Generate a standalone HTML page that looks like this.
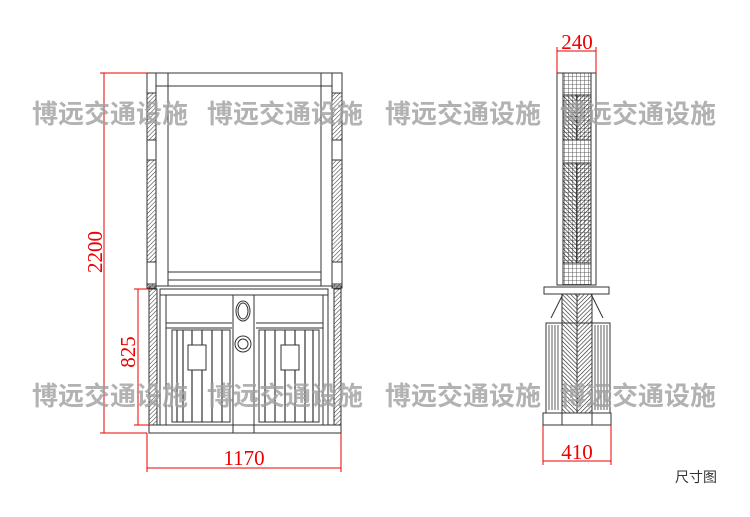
<!DOCTYPE html>
<html><head><meta charset="utf-8"><style>
html,body{margin:0;padding:0;background:#fff;width:750px;height:517px;overflow:hidden}
svg{display:block}
.wm{font-family:"Liberation Sans","Noto Sans CJK SC",sans-serif;font-weight:bold;font-size:26px;fill:#a0a0a0;opacity:.8}
.dim{font-family:"Liberation Serif",serif;font-size:21px;fill:#e00}
</style></head><body>
<svg width="750" height="517" viewBox="0 0 750 517" xmlns="http://www.w3.org/2000/svg">
<defs>
<pattern id="h" width="3" height="3" patternUnits="userSpaceOnUse" patternTransform="rotate(45)"><line x1="0" y1="0" x2="0" y2="3" stroke="#333" stroke-width="1"/></pattern>
<pattern id="hl" width="3" height="3" patternUnits="userSpaceOnUse" patternTransform="rotate(45)"><line x1="0" y1="0" x2="0" y2="3" stroke="#222" stroke-width="1.2"/></pattern>
<pattern id="hr" width="3" height="3" patternUnits="userSpaceOnUse" patternTransform="rotate(-45)"><line x1="0" y1="0" x2="0" y2="3" stroke="#222" stroke-width="1.2"/></pattern>
<pattern id="g" width="4" height="4" patternUnits="userSpaceOnUse"><path d="M0 0H4M0 0V4" stroke="#333" stroke-width="0.8" fill="none"/></pattern>
</defs>
<g fill="none" stroke="#333" stroke-width="1">
<rect x="147" y="73" width="195" height="13"/>
<rect x="147" y="73" width="9" height="215" fill="url(#h)"/>
<rect x="332" y="73" width="10" height="215" fill="url(#h)"/>
<rect x="147" y="73" width="9" height="20" fill="#fff"/>
<rect x="147" y="140" width="9" height="20" fill="#fff"/>
<rect x="147" y="262" width="9" height="22" fill="#fff"/>
<rect x="332" y="73" width="10" height="20" fill="#fff"/>
<rect x="332" y="140" width="10" height="20" fill="#fff"/>
<rect x="332" y="262" width="10" height="22" fill="#fff"/>
<line x1="168" y1="73" x2="168" y2="286"/>
<line x1="321" y1="73" x2="321" y2="286"/>
<line x1="168" y1="272" x2="321" y2="272"/>
<line x1="168" y1="280" x2="321" y2="280"/>
<rect x="149" y="286" width="192" height="147"/>
<rect x="149" y="289" width="8" height="136" fill="url(#h)"/>
<rect x="334" y="289" width="7" height="136" fill="url(#h)"/>
<line x1="149" y1="425" x2="341" y2="425"/>
<rect x="160" y="289" width="168" height="136"/>
<line x1="160" y1="295" x2="328" y2="295"/>
<line x1="166" y1="295" x2="166" y2="425"/>
<line x1="323" y1="295" x2="323" y2="425"/>
<line x1="166" y1="323" x2="232" y2="323"/>
<line x1="256" y1="323" x2="323" y2="323"/>
<line x1="166" y1="328" x2="232" y2="328"/>
<line x1="256" y1="328" x2="323" y2="328"/>
<line x1="233" y1="295" x2="233" y2="433"/>
<line x1="254" y1="295" x2="254" y2="433"/>
<ellipse cx="243" cy="311" rx="7" ry="10"/>
<ellipse cx="243" cy="311" rx="5" ry="8"/>
<circle cx="243" cy="344" r="8"/>
<circle cx="243" cy="344" r="5"/>
<rect x="172" y="330" width="58" height="92"/>
<rect x="259" y="330" width="60" height="92"/>
<g stroke-width="1.2">
<line x1="177" y1="330" x2="177" y2="422"/><line x1="183" y1="330" x2="183" y2="422"/><line x1="192" y1="330" x2="192" y2="422"/><line x1="202" y1="330" x2="202" y2="422"/><line x1="212" y1="330" x2="212" y2="422"/><line x1="222" y1="330" x2="222" y2="422"/>
<line x1="265" y1="330" x2="265" y2="422"/><line x1="275" y1="330" x2="275" y2="422"/><line x1="285" y1="330" x2="285" y2="422"/><line x1="295" y1="330" x2="295" y2="422"/><line x1="305" y1="330" x2="305" y2="422"/><line x1="313" y1="330" x2="313" y2="422"/>
</g>
<rect x="188" y="345" width="18" height="25" fill="#fff"/>
<rect x="281" y="345" width="18" height="25" fill="#fff"/>
<rect x="557" y="73" width="39" height="212"/>
<rect x="563" y="73" width="28" height="212" fill="url(#g)"/>
<rect x="563" y="95" width="14" height="45" fill="url(#hr)"/>
<rect x="577" y="95" width="14" height="45" fill="url(#hl)"/>
<rect x="563" y="163" width="14" height="100" fill="url(#hr)"/>
<rect x="577" y="163" width="14" height="100" fill="url(#hl)"/>
<rect x="544" y="287" width="65" height="7" fill="#fff"/>
<path d="M563 294 L551 318 M591 294 L603 318"/>
<rect x="546" y="323" width="64" height="90"/>
<g stroke-width="0.8">
<line x1="549" y1="325" x2="549" y2="410"/><line x1="552" y1="325" x2="552" y2="410"/><line x1="555" y1="325" x2="555" y2="410"/><line x1="558" y1="325" x2="558" y2="410"/>
<line x1="595" y1="325" x2="595" y2="410"/><line x1="598" y1="325" x2="598" y2="410"/><line x1="601" y1="325" x2="601" y2="410"/><line x1="604" y1="325" x2="604" y2="410"/><line x1="607" y1="325" x2="607" y2="410"/>
</g>
<rect x="562" y="294" width="15" height="119" fill="url(#hr)"/>
<rect x="577" y="294" width="15" height="119" fill="url(#hl)"/>
<rect x="543" y="413" width="68" height="12" fill="#fff"/>
<line x1="562" y1="413" x2="562" y2="425"/><line x1="592" y1="413" x2="592" y2="425"/>
</g>
<g stroke="#e00" stroke-width="1" fill="none">
<line x1="104" y1="73" x2="104" y2="433"/><line x1="100" y1="73" x2="147" y2="73"/><line x1="100" y1="433" x2="147" y2="433"/>
<line x1="138" y1="289" x2="138" y2="425"/><line x1="134" y1="289" x2="149" y2="289"/><line x1="134" y1="425" x2="149" y2="425"/>
<line x1="147" y1="468" x2="341" y2="468"/><line x1="147" y1="433" x2="147" y2="472"/><line x1="341" y1="433" x2="341" y2="472"/>
<line x1="557" y1="51" x2="596" y2="51"/><line x1="557" y1="47" x2="557" y2="73"/><line x1="596" y1="47" x2="596" y2="73"/>
<line x1="543" y1="461" x2="611" y2="461"/><line x1="543" y1="425" x2="543" y2="465"/><line x1="611" y1="425" x2="611" y2="465"/>
</g>
<text class="dim" transform="translate(102,252) rotate(-90)" text-anchor="middle">2200</text>
<text class="dim" transform="translate(135,352) rotate(-90)" text-anchor="middle">825</text>
<text class="dim" x="244" y="465" text-anchor="middle">1170</text>
<text class="dim" x="577" y="49" text-anchor="middle">240</text>
<text class="dim" x="577" y="459" text-anchor="middle">410</text>
<g class="wm">
<text x="32" y="123">博远交通设施</text><text x="207" y="123">博远交通设施</text><text x="385" y="123">博远交通设施</text><text x="560" y="123">博远交通设施</text>
<text x="32" y="405">博远交通设施</text><text x="207" y="405">博远交通设施</text><text x="385" y="405">博远交通设施</text><text x="560" y="405">博远交通设施</text>
</g>
<text x="675" y="482" style="font-family:'Liberation Sans','Noto Sans CJK SC',sans-serif;font-size:14px;fill:#333">尺寸图</text>
</svg>
</body></html>
